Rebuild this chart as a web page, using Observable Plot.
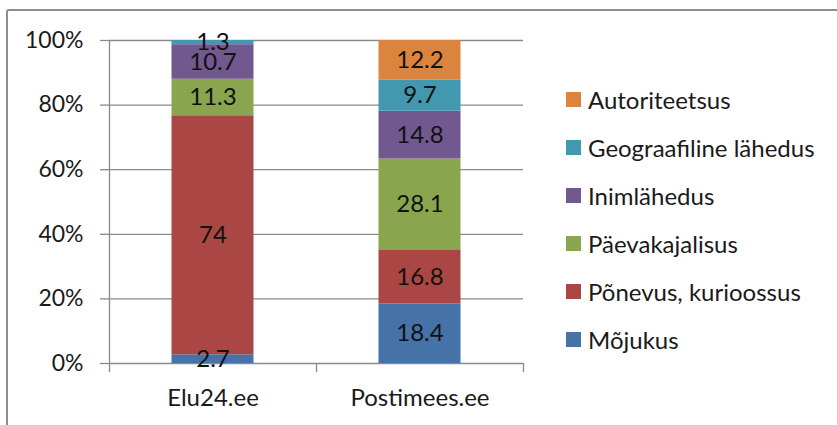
<!DOCTYPE html>
<html>
<head>
<meta charset="utf-8">
<script src="https://cdn.jsdelivr.net/npm/d3@7"></script>
<script src="https://cdn.jsdelivr.net/npm/@observablehq/plot@0.6"></script>
<style>
  html, body { margin: 0; padding: 0; background: #fff; }
  body { width: 837px; height: 425px; position: relative; overflow: hidden; font-family: Lato, "Open Sans", sans-serif; }
  #frame { position: absolute; left: 6px; top: 9px; width: 900px; height: 500px; border: 2px solid #8e8e8e; border-radius: 3px; }
  #chart { position: absolute; left: 0; top: 0; }
  #legend { position: absolute; left: 566px; top: 0; }
  .item { position: absolute; left: 0; white-space: nowrap; font-size: 24px; color: #1a1a1a; line-height: 26px; }
  .sw { position: absolute; left: 0; width: 15px; height: 15px; }
  .lab { position: absolute; left: 22px; top: 0; }
</style>
</head>
<body>
<div id="frame"></div>
<div id="chart"></div>
<div id="legend"></div>
<script>
const sites = ["Elu24.ee", "Postimees.ee"];
const series = ["Mõjukus", "Põnevus, kurioossus", "Päevakajalisus", "Inimlähedus", "Geograafiline lähedus", "Autoriteetsus"];
const elu24 = [2.7, 74, 11.3, 10.7, 1.3, 0];
const postimees = [18.4, 16.8, 28.1, 14.8, 9.7, 12.2];
const colors = ["#4572A7", "#AA4643", "#89A54E", "#71588F", "#4198AF", "#DB843D"];
const yTicks = [0, 20, 40, 60, 80, 100];

// build stacked rows
const rows = [];
[elu24, postimees].forEach((vals, i) => {
  let acc = 0;
  vals.forEach((v, j) => {
    rows.push({site: sites[i], i, series: series[j], value: v, y1: acc, y2: acc + v});
    acc += v;
  });
});

const chart = Plot.plot({
  width: 837,
  height: 425,
  marginLeft: 109,
  marginRight: 314,
  marginTop: 40,
  marginBottom: 62,
  style: {fontFamily: "Lato, 'Open Sans', sans-serif", fontSize: "23px", color: "#1a1a1a", background: "transparent"},
  x: {type: "linear", domain: [0, 2]},
  y: {domain: [0, 100]},
  color: {domain: series, range: colors},
  marks: [
    Plot.ruleY(yTicks, {stroke: "#8a8a8a", strokeWidth: 1.3, strokeOpacity: 1}),
    Plot.ruleX([0], {stroke: "#8a8a8a", strokeWidth: 1.3}),
    Plot.rect(rows, {x1: d => d.i, x2: d => d.i + 1, y1: "y1", y2: "y2", fill: "series", insetLeft: 62.5, insetRight: 62.5}),
    Plot.text(rows.filter(d => d.value > 0), {x: d => d.i + 0.5, y: d => (d.y1 + d.y2) / 2, text: d => String(d.value), fill: "#111", fontSize: 24}),
    Plot.axisY({ticks: yTicks, tickFormat: d => d + "%", tickSize: 9, tickPadding: 17, label: null, stroke: "#8a8a8a", strokeWidth: 1.3, strokeOpacity: 1}),
    Plot.axisX({ticks: [0, 1, 2], tickFormat: () => "", tickSize: 9, label: null, stroke: "#8a8a8a", strokeWidth: 1.3, strokeOpacity: 1}),
    Plot.axisX({ticks: [0.5, 1.5], tickFormat: d => sites[Math.floor(d)], tickSize: 0, tickPadding: 25, label: null, fontSize: 24})
  ]
});
document.getElementById("chart").appendChild(chart);

// legend (top to bottom: reverse stacking order)
const legend = document.getElementById("legend");
const order = series.map((s, j) => j).reverse();
order.forEach((j, k) => {
  const cy = 100 + k * 48;
  const item = document.createElement("div");
  item.className = "item";
  item.style.top = (cy - 13) + "px";
  const sw = document.createElement("div");
  sw.className = "sw";
  sw.style.background = colors[j];
  sw.style.top = "5px";
  const lab = document.createElement("div");
  lab.className = "lab";
  lab.textContent = series[j];
  item.appendChild(sw);
  item.appendChild(lab);
  legend.appendChild(item);
});
</script>
</body>
</html>
